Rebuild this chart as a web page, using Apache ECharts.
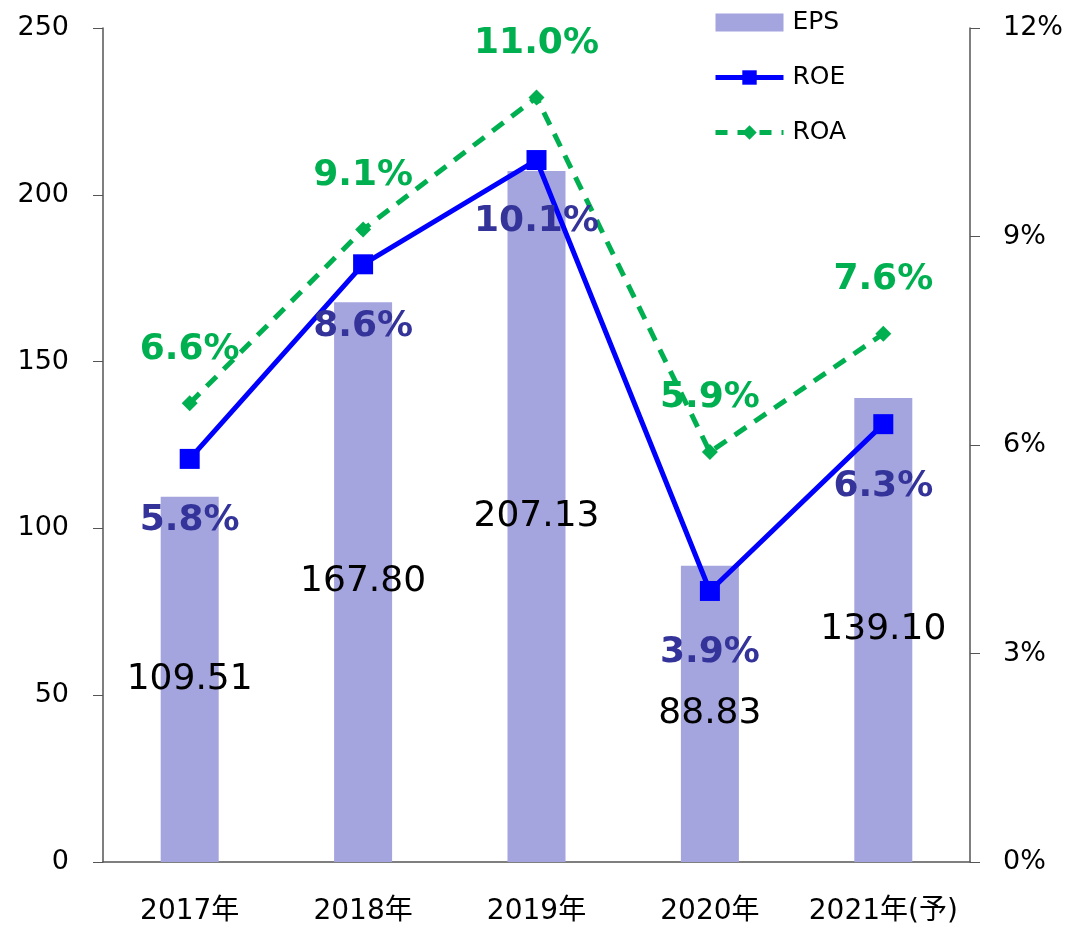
<!DOCTYPE html>
<html lang="ja">
<head>
  <meta charset="UTF-8">
  <title>EPS / ROE / ROA</title>
  <style>
    body { margin: 0; padding: 0; background: #fff; }
    #chart { width: 1074px; height: 926px; }
  </style>
</head>
<body>
  <div id="chart"></div>
  <script src="https://cdn.jsdelivr.net/npm/echarts@6/dist/echarts.min.js"></script>
  <script>
    var years = ['2017年', '2018年', '2019年', '2020年', '2021年(予)'];
    var eps = [109.51, 167.80, 207.13, 88.83, 139.10];
    var roe = [5.8, 8.6, 10.1, 3.9, 6.3];
    var roa = [6.6, 9.1, 11.0, 5.9, 7.6];
    var leftTicks = [0, 50, 100, 150, 200, 250];
    var rightTicks = [0, 3, 6, 9, 12];

    var font = "'DejaVu Sans', Verdana, 'Noto Sans CJK JP', sans-serif";
    var chart = echarts.init(document.getElementById('chart'));

    var option = {
      animation: false,
      textStyle: { fontFamily: font },
      grid: { left: 103, right: 104, top: 28, bottom: 63 },
      legend: {
        orient: 'vertical',
        left: 713,
        top: 10,
        padding: 0,
        itemWidth: 68,
        itemHeight: 18,
        itemGap: 30,
        textStyle: { fontSize: 25, color: '#000', fontFamily: font, padding: [0, 0, 0, 4] },
        data: [
          { name: 'EPS', icon: 'rect' },
          { name: 'ROE', lineStyle: { width: 5 } },
          { name: 'ROA', lineStyle: { width: 5, type: [12, 10] } }
        ]
      },
      xAxis: {
        type: 'category',
        data: years,
        axisLine: { lineStyle: { color: '#555', width: 1.5 } },
        axisTick: { show: false },
        axisLabel: { color: '#000', fontSize: 28, margin: 36, interval: 0, fontFamily: font }
      },
      yAxis: [{
        type: 'value',
        min: 0, max: 250, interval: 50,
        axisLine: { show: true, lineStyle: { color: '#555', width: 1.5 } },
        axisTick: { show: true, length: 10, lineStyle: { color: '#555' } },
        splitLine: { show: false },
        axisLabel: {
          color: '#000', fontSize: 27, margin: 34, fontFamily: font,
          formatter: function (v) { return leftTicks.indexOf(v) >= 0 ? String(v) : ''; }
        }
      }, {
        type: 'value',
        min: 0, max: 12, interval: 3,
        position: 'right',
        axisLine: { show: true, lineStyle: { color: '#555', width: 1.5 } },
        axisTick: { show: true, length: 10, lineStyle: { color: '#555' } },
        splitLine: { show: false },
        axisLabel: {
          color: '#000', fontSize: 27, margin: 33, fontFamily: font,
          formatter: function (v) { return rightTicks.indexOf(v) >= 0 ? v + '%' : ''; }
        }
      }],
      series: [{
        name: 'EPS',
        type: 'bar',
        data: eps,
        barWidth: 58,
        itemStyle: { color: '#a4a4df' },
        label: {
          show: true, position: 'inside', color: '#000', fontSize: 36, fontFamily: font,
          formatter: function (p) { return p.value.toFixed(2); }
        },
        z: 1
      }, {
        name: 'ROE',
        type: 'line',
        yAxisIndex: 1,
        data: roe,
        symbol: 'rect',
        symbolSize: 20,
        itemStyle: { color: '#0000ff' },
        lineStyle: { color: '#0000ff', width: 5 },
        label: {
          show: true, position: 'bottom', distance: 34, color: '#333399',
          fontSize: 36, fontWeight: 'bold', fontFamily: font,
          formatter: function (p) { return p.value.toFixed(1) + '%'; }
        },
        z: 3
      }, {
        name: 'ROA',
        type: 'line',
        yAxisIndex: 1,
        data: roa,
        symbol: 'diamond',
        symbolSize: 16,
        itemStyle: { color: '#00b050' },
        lineStyle: { color: '#00b050', width: 5, type: [14, 10] },
        label: {
          show: true, position: 'top', distance: 28, color: '#00b050',
          fontSize: 36, fontWeight: 'bold', fontFamily: font,
          formatter: function (p) { return p.value.toFixed(1) + '%'; }
        },
        z: 2
      }]
    };

    chart.setOption(option);
  </script>
</body>
</html>
